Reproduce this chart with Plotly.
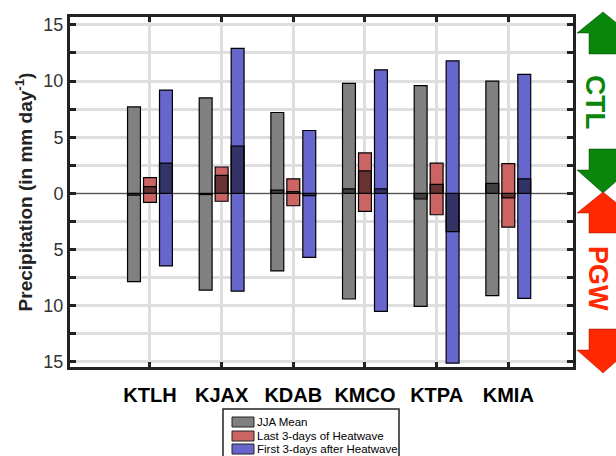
import plotly.graph_objects as go

# ---------------- data ----------------
stations = ["KTLH", "KJAX", "KDAB", "KMCO", "KTPA", "KMIA"]
series_names = ["JJA Mean", "Last 3-days of Heatwave", "First 3-days after Heatwave"]

# CTL (upward) and PGW (downward) precipitation, mm/day
jja_ctl = [7.7, 8.5, 7.2, 9.8, 9.6, 10.0]
jja_pgw = [7.85, 8.6, 6.9, 9.4, 10.05, 9.1]
jja_diff = [-0.15, -0.1, 0.3, 0.4, -0.5, 0.9]

last_ctl = [1.4, 2.35, 1.3, 3.6, 2.7, 2.65]
last_pgw = [0.8, 0.7, 1.1, 1.6, 1.9, 3.0]
last_diff = [0.6, 1.6, 0.15, 2.0, 0.8, -0.4]

first_ctl = [9.2, 12.9, 5.6, 11.0, 11.8, 10.6]
first_pgw = [6.45, 8.7, 5.7, 10.5, 15.1, 9.35]
first_diff = [2.7, 4.2, -0.2, 0.4, -3.4, 1.3]

ytick_vals = [-15, -10, -5, 0, 5, 10, 15]
ytick_text = ["15", "10", "5", "0", "5", "10", "15"]

colors = ["rgb(128,128,128)", "rgb(205,100,100)", "rgb(102,102,204)"]
offsets = [-0.223, 0.0, 0.223]
bar_w = 0.18

# ---------------- layout helpers (pixel -> paper) ----------------
W, H = 616, 456
L, R, T, B = 70, 573, 17, 367


def px(xp):
    return (xp - L) / (R - L)


def py(yp):
    return (B - yp) / (B - T)


positions = list(range(1, len(stations) + 1))

fig = go.Figure()

all_series = [
    (jja_ctl, jja_pgw, jja_diff),
    (last_ctl, last_pgw, last_diff),
    (first_ctl, first_pgw, first_diff),
]

for i, (ctl, pgw, diff) in enumerate(all_series):
    xs = [p + offsets[i] for p in positions]
    fig.add_trace(go.Bar(
        x=xs, y=[c + g for c, g in zip(ctl, pgw)], base=[-g for g in pgw],
        width=bar_w, marker=dict(color=colors[i], line=dict(color="black", width=1.2)),
        name=series_names[i], showlegend=False,
    ))
    fig.add_trace(go.Bar(
        x=xs, y=diff, base=[0] * len(diff),
        width=bar_w, marker=dict(color="rgba(0,0,0,0.5)", line=dict(color="black", width=1.2)),
        showlegend=False, hoverinfo="skip",
    ))

fig.update_layout(
    width=W, height=H,
    margin=dict(l=L, r=W - R, t=T, b=H - B),
    barmode="overlay",
    plot_bgcolor="white", paper_bgcolor="white",
    font=dict(family="Liberation Sans, Arial, sans-serif"),
    showlegend=False,
)

fig.update_xaxes(
    range=[-0.116, 6.903],
    tickvals=positions, ticktext=stations,
    tickfont=dict(size=20, color="black", family="Liberation Sans, Arial, sans-serif", weight="bold"),
    ticks="inside", ticklen=5, tickwidth=3, tickcolor="#222",
    showline=True, linewidth=3, linecolor="#222", mirror="allticks",
    showgrid=True, gridcolor="rgb(222,222,222)", gridwidth=3,
    zeroline=False, ticklabelstandoff=8,
)

fig.update_yaxes(
    range=[-15.45, 15.7],
    tickvals=ytick_vals, ticktext=ytick_text,
    tickfont=dict(size=18, color="#333"),
    ticks="inside", ticklen=6, tickwidth=3, tickcolor="#222",
    minor=dict(dtick=2.5, tick0=0, ticks="inside", ticklen=6, tickwidth=3, tickcolor="#222",
               showgrid=True, gridcolor="rgb(222,222,222)", gridwidth=3),
    showline=True, linewidth=3, linecolor="#222", mirror="allticks",
    showgrid=True, gridcolor="rgb(222,222,222)", gridwidth=3,
    zeroline=True, zerolinecolor="#555", zerolinewidth=1,
    title=dict(text="Precipitation (in mm day<sup>-1</sup>)",
               font=dict(size=19, color="#222", weight="bold"), standoff=6),
)


# ---------------- decorations: CTL / PGW arrows ----------------
def arrow_path(cx, tip, head_base, tail, head_hw=26, shaft_hw=14):
    pts = [
        (cx, tip), (cx + head_hw, head_base), (cx + shaft_hw, head_base),
        (cx + shaft_hw, tail), (cx - shaft_hw, tail), (cx - shaft_hw, head_base),
        (cx - head_hw, head_base),
    ]
    return "M " + " L ".join(f"{px(a):.5f},{py(b):.5f}" for a, b in pts) + " Z"


green = "rgb(10,135,10)"
red = "rgb(255,40,0)"
cx = 603
arrows = [
    (12, 33, 54, green),
    (193, 170, 149, green),
    (192, 213, 233, red),
    (373, 350, 329, red),
]
for tip, hb, tail, col in arrows:
    fig.add_shape(type="path", xref="paper", yref="paper",
                  path=arrow_path(cx, tip, hb, tail),
                  fillcolor=col, line=dict(color="rgba(0,60,0,0.6)" if col == green else "rgba(150,20,0,0.6)", width=0.8))

fig.add_annotation(xref="paper", yref="paper", x=px(596), y=py(102), text="<b>CTL</b>",
                   showarrow=False, textangle=90, font=dict(size=28, color=green),
                   xanchor="center", yanchor="middle")
fig.add_annotation(xref="paper", yref="paper", x=px(598), y=py(278), text="<b>PGW</b>",
                   showarrow=False, textangle=90, font=dict(size=27, color=red),
                   xanchor="center", yanchor="middle")

# ---------------- custom legend ----------------
fig.add_shape(type="rect", xref="paper", yref="paper",
              x0=px(223), x1=px(399), y0=py(470), y1=py(409),
              fillcolor="white", line=dict(color="#222", width=1.5))
leg_rows = [(417, 427), (431, 441), (444, 454)]
for (y0, y1), name, col in zip(leg_rows, series_names, colors):
    fig.add_shape(type="rect", xref="paper", yref="paper",
                  x0=px(232), x1=px(254), y0=py(y1), y1=py(y0),
                  fillcolor=col, line=dict(color="#222", width=1))
    fig.add_annotation(xref="paper", yref="paper", x=px(255), y=py((y0 + y1) / 2),
                       text=name, showarrow=False, xanchor="left", yanchor="middle",
                       font=dict(size=11.5, color="black"))

fig.write_html("out.html")
